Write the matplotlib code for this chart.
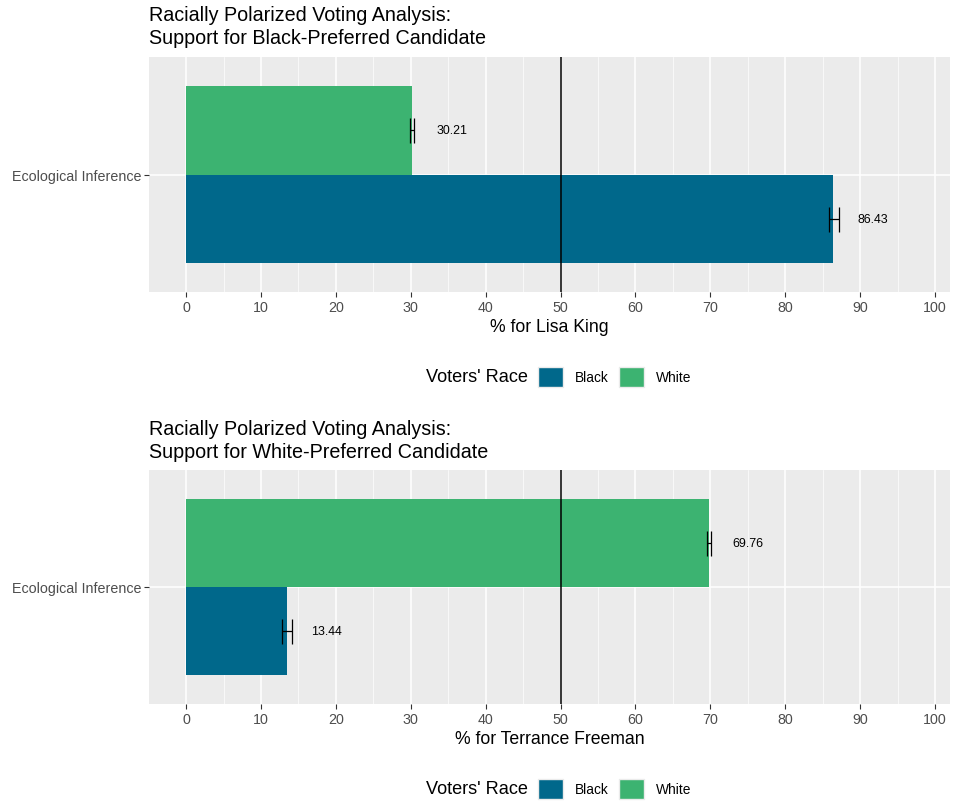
import matplotlib.pyplot as plt
from matplotlib.patches import Patch
from matplotlib.ticker import MultipleLocator

plt.rcParams['font.family'] = ['Liberation Sans', 'DejaVu Sans']

# Racially polarized voting estimates (ecological inference)
races = ['Black', 'White']
race_colors = {'Black': '#00688B', 'White': '#3CB371'}
method = 'Ecological Inference'

# Support for the Black-preferred candidate (Lisa King)
king_est = [86.43, 30.21]
king_lo = [85.8, 29.85]
king_hi = [87.2, 30.45]

# Support for the White-preferred candidate (Terrance Freeman)
freeman_est = [13.44, 69.76]
freeman_lo = [12.8, 69.55]
freeman_hi = [14.2, 70.1]

W, H = 963, 803
fig = plt.figure(figsize=(W / 100, H / 100), dpi=100)


def px_axes(left, top, right, bottom):
    return fig.add_axes([left / W, 1 - bottom / H, (right - left) / W, (bottom - top) / H])


def rpv_panel(ax, est, lo, hi, xlabel, title, title_top):
    ax.set_facecolor('#EBEBEB')
    for s in ax.spines.values():
        s.set_visible(False)
    # dodged bars: Black below, White above the category line
    offsets = {'Black': -0.225, 'White': 0.225}
    for race, v, l, h in zip(races, est, lo, hi):
        y = 1 + offsets[race]
        ax.barh(y, v, height=0.45, color=race_colors[race], zorder=2)
        ax.errorbar(v, y, xerr=[[v - l], [h - v]], fmt='none', ecolor='black',
                    elinewidth=0.9, capsize=9, capthick=0.9, zorder=3)
        ax.text(v + 5.3, y, f'{v:.2f}', ha='center', va='center', fontsize=8.9, zorder=4)
    ax.axvline(50, color='black', lw=1.1, zorder=3)

    ax.set_xlim(-4.95, 102)
    ax.set_ylim(0.4, 1.6)
    ax.xaxis.set_major_locator(MultipleLocator(10))
    ax.xaxis.set_minor_locator(MultipleLocator(5))
    ax.set_yticks([1])
    ax.set_yticklabels([method])
    ax.grid(which='major', color='white', lw=1.1, zorder=0)
    ax.grid(which='minor', axis='x', color='white', lw=0.5, zorder=0)
    ax.set_axisbelow(True)
    ax.tick_params(which='major', length=3.5, width=0.8, color='#333333',
                   labelcolor='#4D4D4D', labelsize=10.3, pad=2)
    ax.tick_params(which='minor', length=0)
    ax.set_xlabel(xlabel, fontsize=12.7, labelpad=3)

    fig.text(149 / W, 1 - title_top / H, title, fontsize=14.2, ha='left', va='top',
             linespacing=1.3)


ax1 = px_axes(149, 58, 950, 293)
rpv_panel(ax1, king_est, king_lo, king_hi, '% for Lisa King',
          'Racially Polarized Voting Analysis:\nSupport for Black-Preferred Candidate', 6)

ax2 = px_axes(149, 471, 950, 705)
rpv_panel(ax2, freeman_est, freeman_lo, freeman_hi, '% for Terrance Freeman',
          'Racially Polarized Voting Analysis:\nSupport for White-Preferred Candidate', 420)

handles = [Patch(facecolor=race_colors[r], edgecolor='#EBEBEB', label=r) for r in races]
for y_mid in (378, 790):
    fig.text(528 / W, 1 - y_mid / H, "Voters' Race", fontsize=13.1, ha='right', va='center')
    fig.legend(handles=handles, loc='center left', bbox_to_anchor=(538 / W, 1 - y_mid / H),
               ncol=2, frameon=False, fontsize=9.9, handlelength=1.8, handleheight=1.8,
               handletextpad=0.85, columnspacing=0.8, borderpad=0, borderaxespad=0)

fig.savefig('out.png', dpi=100)
